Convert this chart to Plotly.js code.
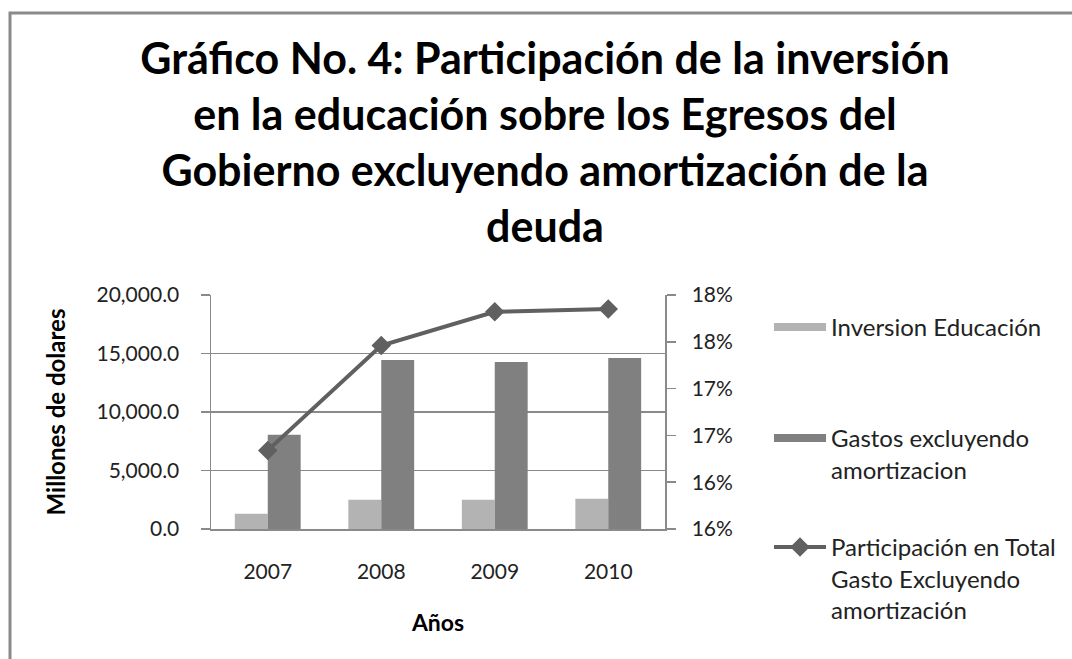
<!DOCTYPE html>
<html>
<head>
<meta charset="utf-8">
<script src="https://cdn.plot.ly/plotly-3.0.1.min.js"></script>
<style>
  html, body { margin: 0; padding: 0; background: #fff; }
  #chart { width: 1072px; height: 659px; }
</style>
</head>
<body>
<div id="chart"></div>
<script>
// ---- data ----
const years = ['2007', '2008', '2009', '2010'];
const inversionEducacion = [1300, 2500, 2500, 2590];
const gastosExcluyendo = [8050, 14450, 14280, 14620];
const participacion = [16.34, 17.46, 17.82, 17.85];
const rightTickVals = [15.5, 16, 16.5, 17, 17.5, 18];
const rightTickText = ['16%', '16%', '17%', '17%', '18%', '18%'];
const seriesNames = [
  'Inversion Educación',
  'Gastos excluyendo<br>amortizacion',
  'Participación en Total<br>Gasto Excluyendo<br>amortización'
];

const FONT = 'Lato, "Open Sans", "DejaVu Sans", sans-serif';
const cLight = '#b3b3b3', cDark = '#808080', cLine = '#606060', cAxis = '#8a8a8a';

const traces = [
  { type: 'bar', x: years, y: inversionEducacion, name: seriesNames[0],
    marker: { color: cLight }, showlegend: false, hoverinfo: 'x+y' },
  { type: 'bar', x: years, y: gastosExcluyendo, name: seriesNames[1],
    marker: { color: cDark }, showlegend: false, hoverinfo: 'x+y' },
  { type: 'scatter', mode: 'lines+markers', x: years, y: participacion, yaxis: 'y2',
    name: seriesNames[2], legend: 'legend3',
    line: { color: cLine, width: 4 },
    marker: { symbol: 'diamond', size: 15, color: cLine } },
  // legend keys for the bar series (wide flat rectangles as in the original)
  { type: 'scatter', mode: 'lines', x: [null], y: [null], name: seriesNames[0],
    legend: 'legend', line: { color: cLight, width: 8 }, hoverinfo: 'skip' },
  { type: 'scatter', mode: 'lines', x: [null], y: [null], name: seriesNames[1],
    legend: 'legend2', line: { color: cDark, width: 8 }, hoverinfo: 'skip' }
];

const W = 1072, H = 659;
const legendBase = {
  xref: 'container', yref: 'container', xanchor: 'left', yanchor: 'top',
  x: 769 / W, bgcolor: 'rgba(0,0,0,0)', borderwidth: 0,
  font: { family: FONT, size: 24, color: '#222' },
  itemwidth: 52, valign: 'top', itemclick: false, itemdoubleclick: false
};

const pL = 211, pR = 665, pT = 295, pB = 529;
const pw = pR - pL, ph = pB - pT;
const px = v => (v - pL) / pw;
const py = v => (pB - v) / ph;

const layout = {
  width: W, height: H,
  margin: { l: pL, r: W - pR, t: pT, b: H - pB, pad: 0 },
  paper_bgcolor: '#fff', plot_bgcolor: '#fff',
  font: { family: FONT, color: '#222' },
  title: {
    text: 'Gráfico No. 4: Participación de la inversión<br>en la educación sobre los Egresos del<br>Gobierno excluyendo amortización de la<br>deuda',
    font: { family: FONT, size: 43, color: '#000', weight: 'bold' },
    xref: 'container', yref: 'container', x: 545 / W, xanchor: 'center',
    y: 1 - 74 / H, yanchor: 'top'
  },
  barmode: 'group', bargap: 0.42, bargroupgap: 0,
  xaxis: {
    type: 'category', showgrid: false, zeroline: false,
    showline: true, linecolor: cAxis, linewidth: 1.5, mirror: false,
    ticks: '', ticklabelstandoff: 23,
    tickfont: { family: FONT, size: 21, color: '#222' },
    title: { text: 'Años', font: { family: FONT, size: 23, color: '#000', weight: 'bold' }, standoff: 33 }
  },
  yaxis: {
    range: [0, 20000], dtick: 5000, tick0: 0, tickformat: ',.1f',
    showgrid: true, gridcolor: cAxis, gridwidth: 1.5, zeroline: false,
    showline: true, linecolor: cAxis, linewidth: 1.5,
    ticks: 'outside', ticklen: 9, tickcolor: cAxis, tickwidth: 1.5, ticklabelstandoff: 17,
    tickfont: { family: FONT, size: 21, color: '#222' },
    title: { text: 'Millones de dolares', font: { family: FONT, size: 24, color: '#000', weight: 'bold' }, standoff: 24 }
  },
  yaxis2: {
    overlaying: 'y', side: 'right', range: [15.5, 18.0],
    tickmode: 'array', tickvals: rightTickVals, ticktext: rightTickText,
    showgrid: false, zeroline: false,
    showline: true, linecolor: cAxis, linewidth: 1.5,
    ticks: 'outside', ticklen: 9, tickcolor: cAxis, tickwidth: 1.5, ticklabelstandoff: 12,
    tickfont: { family: FONT, size: 21, color: '#222' }
  },
  legend: Object.assign({}, legendBase, { y: 1 - 305 / H }),
  legend2: Object.assign({}, legendBase, { y: 1 - 416 / H }),
  legend3: Object.assign({}, legendBase, { y: 1 - 525 / H }),
  shapes: [{
    type: 'rect', xref: 'paper', yref: 'paper', layer: 'below',
    x0: px(10), x1: px(1080), y0: py(670), y1: py(13),
    line: { color: '#8a8a8a', width: 3 }, fillcolor: 'rgba(0,0,0,0)'
  }],
  showlegend: true
};

Plotly.newPlot('chart', traces, layout, { displayModeBar: false, staticPlot: true });
</script>
</body>
</html>
